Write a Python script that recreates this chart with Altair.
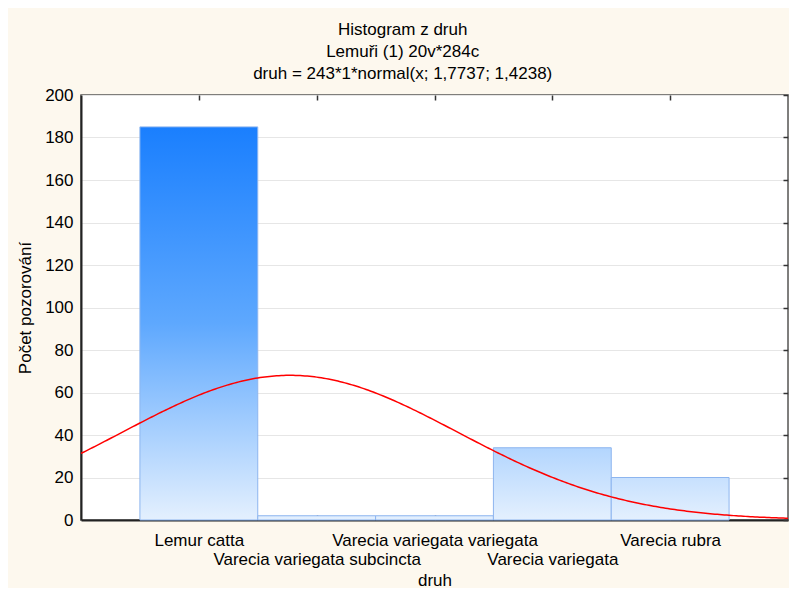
import json
import altair as alt
import pandas as pd

# ---- data ----
categories = ["Lemur catta", "Varecia variegata subcincta", "Varecia variegata variegata",
              "Varecia variegata", "Varecia rubra"]
codes = [1, 2, 3, 4, 5]
counts = [185, 2, 2, 34, 20]

y_ticks = [0, 20, 40, 60, 80, 100, 120, 140, 160, 180, 200]
x_ticks = [1, 2, 3, 4, 5]

# fitted normal curve parameters (from the title)
fit_n = 243
fit_mean = 1.7737
fit_sd = 1.4238

title_lines = ["Histogram z druh", "Lemuři (1) 20v*284c",
               "druh = 243*1*normal(x; 1,7737; 1,4238)"]

df = pd.DataFrame({"druh": categories, "code": codes, "count": counts})

FONT = "Liberation Sans"
xscale = alt.Scale(domain=[0, 6], nice=False, zero=False)
yscale = alt.Scale(domain=[0, 200], nice=False)

names_js = json.dumps(categories)
label_expr = (f"datum.value % 2 == 1 ? {names_js}[datum.value - 1] "
              f": ['', {names_js}[datum.value - 1]]")

ax_bottom = alt.Axis(orient="bottom", values=x_ticks, labelExpr=label_expr, ticks=False,
                     domain=True, domainColor="#222222", domainWidth=2, grid=False,
                     labelFontSize=17, labelFont=FONT, labelColor="black", labelPadding=12,
                     labelLineHeight=19, labelOverlap=False, labelFlush=False, labelLimit=500,
                     title="druh", titleFontSize=17, titleFont=FONT, titleFontWeight="normal",
                     titleColor="black", titlePadding=5)
ax_left = alt.Axis(orient="left", values=y_ticks, ticks=False, domain=True,
                   domainColor="#222222", domainWidth=2, grid=True, gridColor="#e6e6e6",
                   gridWidth=1, labelFontSize=17, labelFont=FONT, labelColor="black",
                   labelPadding=8, title="Počet pozorování", titleFontSize=17, titleFont=FONT,
                   titleFontWeight="normal", titleColor="black", titlePadding=10)
ax_bottom_ticks = alt.Axis(orient="bottom", offset=-5, values=x_ticks, ticks=True, tickSize=5,
                           tickColor="#333333", tickWidth=1.5, labels=False, domain=False,
                           grid=False, title=None)
ax_right_ticks = alt.Axis(orient="right", offset=-5, values=y_ticks, ticks=True, tickSize=5,
                          tickColor="#333333", tickWidth=1.5, labels=False, domain=False,
                          grid=False, title=None)
ax_top_ticks = alt.Axis(orient="top", offset=-5, values=x_ticks, ticks=True, tickSize=5,
                        tickColor="#333333", tickWidth=1.5, labels=False, domain=False,
                        grid=False, title=None)

axes_x = [ax_bottom, ax_bottom_ticks, ax_top_ticks, None, None]
axes_y = [ax_left, ax_right_ticks, None, None, None]

vmax = max(counts)
layers = []
for i, (cat, v) in enumerate(zip(categories, counts)):
    grad = alt.LinearGradient(
        gradient="linear",
        stops=[alt.GradientStop(color="#1a7ffe", offset=0),
               alt.GradientStop(color="#5ea8fe", offset=0.5),
               alt.GradientStop(color="#e4f0fe", offset=1)],
        x1=0, x2=0, y1=1 - vmax / v, y2=1)
    layer = (
        alt.Chart(df)
        .transform_filter(alt.datum.druh == cat)
        .transform_calculate(lo="datum.code - 0.5", hi="datum.code + 0.5", base="0")
        .mark_bar(fill=grad, stroke="#8db5ef", strokeWidth=1)
        .encode(
            x=alt.X("lo:Q", scale=xscale, axis=axes_x[i]),
            x2="hi:Q",
            y=alt.Y("count:Q", scale=yscale, axis=axes_y[i]),
            y2="base:Q",
        )
    )
    layers.append(layer)

curve = (
    alt.Chart(alt.sequence(0, 6.0001, 0.02, as_="x"))
    .transform_calculate(y=f"{fit_n} * densityNormal(datum.x, {fit_mean}, {fit_sd})")
    .mark_line(color="#ff0000", strokeWidth=1.5, clip=True)
    .encode(x=alt.X("x:Q", scale=xscale, axis=None),
            y=alt.Y("y:Q", scale=yscale, axis=None))
)

chart = (
    alt.layer(*layers, curve)
    .resolve_axis(x="independent", y="independent")
    .properties(
        width=707, height=425,
        title=alt.TitleParams(text=title_lines, fontSize=17, font=FONT, fontWeight="normal",
                              color="black", lineHeight=22, anchor="middle", frame="bounds",
                              offset=3),
        background="#fdf8ee",
        padding={"left": 73, "top": 87, "right": 1, "bottom": 68},
        autosize=alt.AutoSizeParams(type="none"),
    )
    .configure_view(fill="white", stroke="#555555", strokeWidth=1.5)
)

chart.save("out.html", embed_options={"renderer": "svg", "actions": False})
